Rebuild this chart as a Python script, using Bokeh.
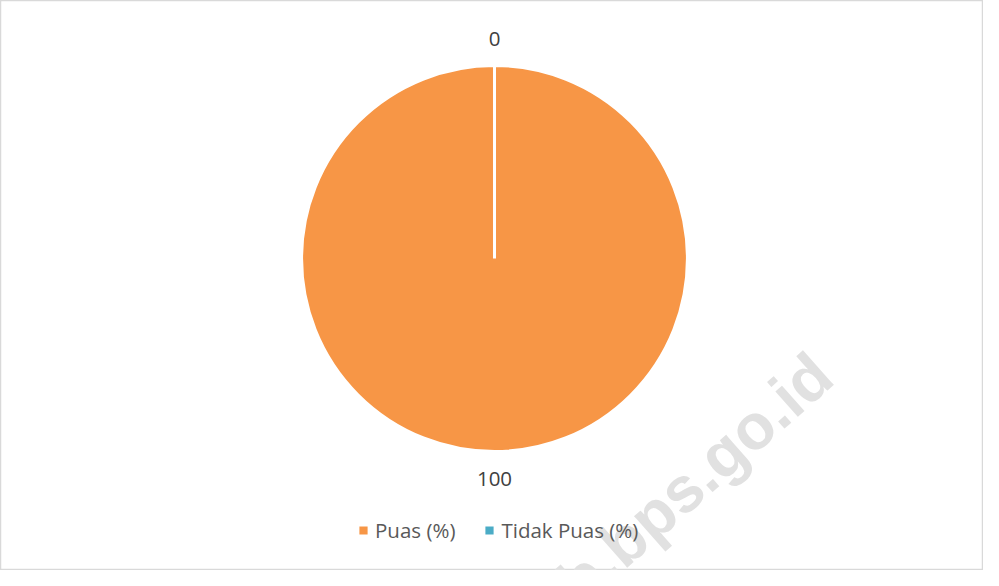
import numpy as np
from bokeh.plotting import figure
from bokeh.models import ColumnDataSource, Legend, LegendItem
from bokeh.core.properties import value
from bokeh.embed import file_html
from bokeh.resources import INLINE

categories = ["Puas (%)", "Tidak Puas (%)"]
values = [100, 0]
colors = ["#F79646", "#4BACC6"]
value_labels = ["100", "0"]

W, H = 983, 570
p = figure(width=W, height=H, x_range=(0, W), y_range=(0, H),
           output_backend="svg", toolbar_location=None,
           min_border=0, min_border_left=0, min_border_right=0,
           min_border_top=0, min_border_bottom=0)
p.axis.visible = False
p.grid.visible = False
p.outline_line_color = "#D9D9D9"
p.outline_line_width = 1.5
p.background_fill_color = "white"
p.border_fill_color = "white"

cx, cy, r = 494, 312, 193
vals = np.array(values, dtype=float)
frac = vals / vals.sum()
cum = np.concatenate([[0], np.cumsum(frac)])
# angles in degrees, wrapped so that a full slice has start == end
start_deg = np.mod(90 - 360 * cum[:-1], 360)
end_deg = np.mod(90 - 360 * cum[1:], 360)
radii = np.where(frac > 0, r, 0)

# watermark (behind the pie)
p.text(x=[822], y=[H - 365], text=["kab.bps.go.id"], angle=np.deg2rad(41.5),
       text_align="right", text_baseline="alphabetic",
       text_font=value("Liberation Sans"), text_font_style="bold",
       text_font_size="64px", text_color="#E1E1E1")

src = ColumnDataSource(dict(x=[cx] * len(values), y=[cy] * len(values),
                            s=start_deg, e=end_deg, r=radii, c=colors))
pie = p.wedge(x="x", y="y", radius="r", start_angle="s", end_angle="e",
              start_angle_units="deg", end_angle_units="deg",
              direction="clock", source=src, fill_color="c",
              line_color="white", line_width=3)

# value labels: outside, at the middle angle of each slice
mid = np.deg2rad(90 - 360 * (cum[:-1] + cum[1:]) / 2)
lab_r = r + 27
lx = cx + lab_r * np.cos(mid)
ly = cy + lab_r * np.sin(mid)
p.text(x=lx, y=ly, text=value_labels, text_align="center", text_baseline="middle",
       text_font=value("Open Sans"), text_font_size="20.5px", text_color="#404040")

items = [LegendItem(label=categories[i], renderers=[pie], index=i)
         for i in range(len(categories))]
legend = Legend(items=items, orientation="horizontal", location=(356, 26),
                glyph_width=14, glyph_height=14, label_standoff=5, spacing=27,
                padding=0, margin=0, border_line_color=None,
                background_fill_alpha=0, label_height=22,
                label_text_font="Open Sans", label_text_font_size="20.5px",
                label_text_color="#595959")
p.add_layout(legend, "center")

open("out.html", "w").write(file_html(p, INLINE))
